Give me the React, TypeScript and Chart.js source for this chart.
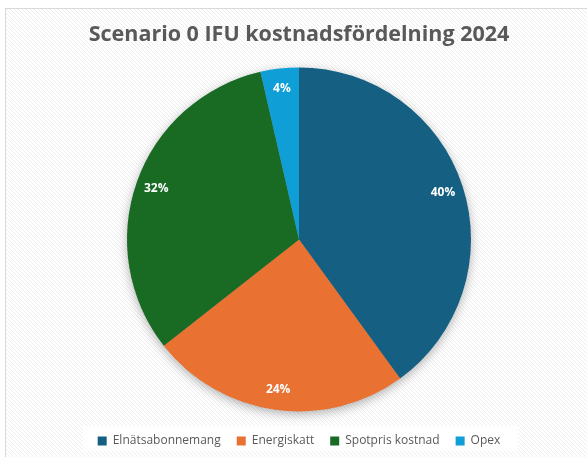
import React, { useEffect, useRef } from "react";
import { Chart, registerables } from "chart.js";

Chart.register(...registerables);

const titleText = "Scenario 0 IFU kostnadsfördelning 2024";
const categories = ["Elnätsabonnemang", "Energiskatt", "Spotpris kostnad", "Opex"];
const shares = [40.0, 24.4, 32.0, 3.6];
const colors = ["#156082", "#E97132", "#196B24", "#0F9ED5"];

const FONT = "'Open Sans', 'Noto Sans', Arial, sans-serif";

function makePattern(ctx: CanvasRenderingContext2D) {
  const c = document.createElement("canvas");
  c.width = 4;
  c.height = 4;
  const p = c.getContext("2d")!;
  p.fillStyle = "#ffffff";
  p.fillRect(0, 0, 4, 4);
  p.fillStyle = "#eeeeee";
  for (let i = 0; i < 4; i++) p.fillRect(i, i, 1, 1);
  return ctx.createPattern(c, "repeat");
}

const bgPlugin = {
  id: "bgPlugin",
  beforeDraw(chart: any) {
    const ctx = chart.ctx as CanvasRenderingContext2D;
    ctx.save();
    const pat = makePattern(ctx);
    ctx.fillStyle = pat || "#fff";
    ctx.fillRect(0, 0, chart.width, chart.height);
    const lg = chart.legend;
    if (lg) {
      const cy = lg.top + lg.height / 2;
      ctx.fillStyle = "rgba(255,255,255,0.85)";
      ctx.fillRect(77, cy - 12, 435, 25);
    }
    ctx.restore();
  },
  beforeDatasetsDraw(chart: any) {
    const meta = chart.getDatasetMeta(0);
    const arc = meta.data[0];
    if (!arc) return;
    const { x, y, outerRadius } = arc.getProps(["x", "y", "outerRadius"], true);
    const ctx = chart.ctx as CanvasRenderingContext2D;
    ctx.save();
    ctx.shadowColor = "rgba(0,0,0,0.35)";
    ctx.shadowBlur = 12;
    ctx.shadowOffsetX = 0;
    ctx.shadowOffsetY = 3;
    ctx.beginPath();
    ctx.arc(x, y, outerRadius - 1, 0, Math.PI * 2);
    ctx.fillStyle = "#888";
    ctx.fill();
    ctx.restore();
  },
  afterDatasetsDraw(chart: any) {
    const meta = chart.getDatasetMeta(0);
    const data = chart.data.datasets[0].data as number[];
    const total = data.reduce((a, b) => a + b, 0);
    const ctx = chart.ctx as CanvasRenderingContext2D;
    ctx.save();
    ctx.font = `bold 12px ${FONT}`;
    ctx.fillStyle = "#ffffff";
    ctx.textAlign = "center";
    ctx.textBaseline = "middle";
    meta.data.forEach((el: any, i: number) => {
      const { x, y, startAngle, endAngle, outerRadius } = el.getProps(
        ["x", "y", "startAngle", "endAngle", "outerRadius"],
        true
      );
      const mid = (startAngle + endAngle) / 2;
      const r = outerRadius * 0.88;
      const label = Math.round((data[i] / total) * 100) + "%";
      ctx.fillText(label, x + Math.cos(mid) * r, y + Math.sin(mid) * r);
    });
    ctx.restore();
  },
};

export default function App() {
  const ref = useRef<HTMLCanvasElement | null>(null);
  useEffect(() => {
    document.body.style.margin = "0";
    const chart = new Chart(ref.current!, {
      type: "pie",
      data: {
        labels: categories,
        datasets: [
          {
            data: shares,
            backgroundColor: colors,
            borderWidth: 0,
            radius: 172,
          },
        ],
      },
      options: {
        responsive: false,
        animation: false,
        devicePixelRatio: 1,
        layout: { padding: { left: 5, right: 0, top: 0, bottom: 0 } },
        plugins: {
          title: {
            display: true,
            text: titleText,
            color: "#595959",
            font: { family: FONT, size: 21.5, weight: "bold", lineHeight: 1.2 },
            padding: { top: 13, bottom: 12 },
          },
          legend: {
            display: true,
            position: "bottom",
            labels: {
              color: "#595959",
              font: { family: FONT, size: 12 },
              boxWidth: 9,
              boxHeight: 9,
              padding: 16,
            },
          },
          tooltip: { enabled: false },
        },
      },
      plugins: [bgPlugin],
    });
    return () => chart.destroy();
  }, []);
  return (
    <div
      style={{
        position: "absolute",
        left: 5,
        top: 8,
        borderTop: "1px solid #d9d9d9",
        borderLeft: "1px solid #d9d9d9",
        lineHeight: 0,
      }}
    >
      <canvas ref={ref} width={581} height={448} />
    </div>
  );
}
